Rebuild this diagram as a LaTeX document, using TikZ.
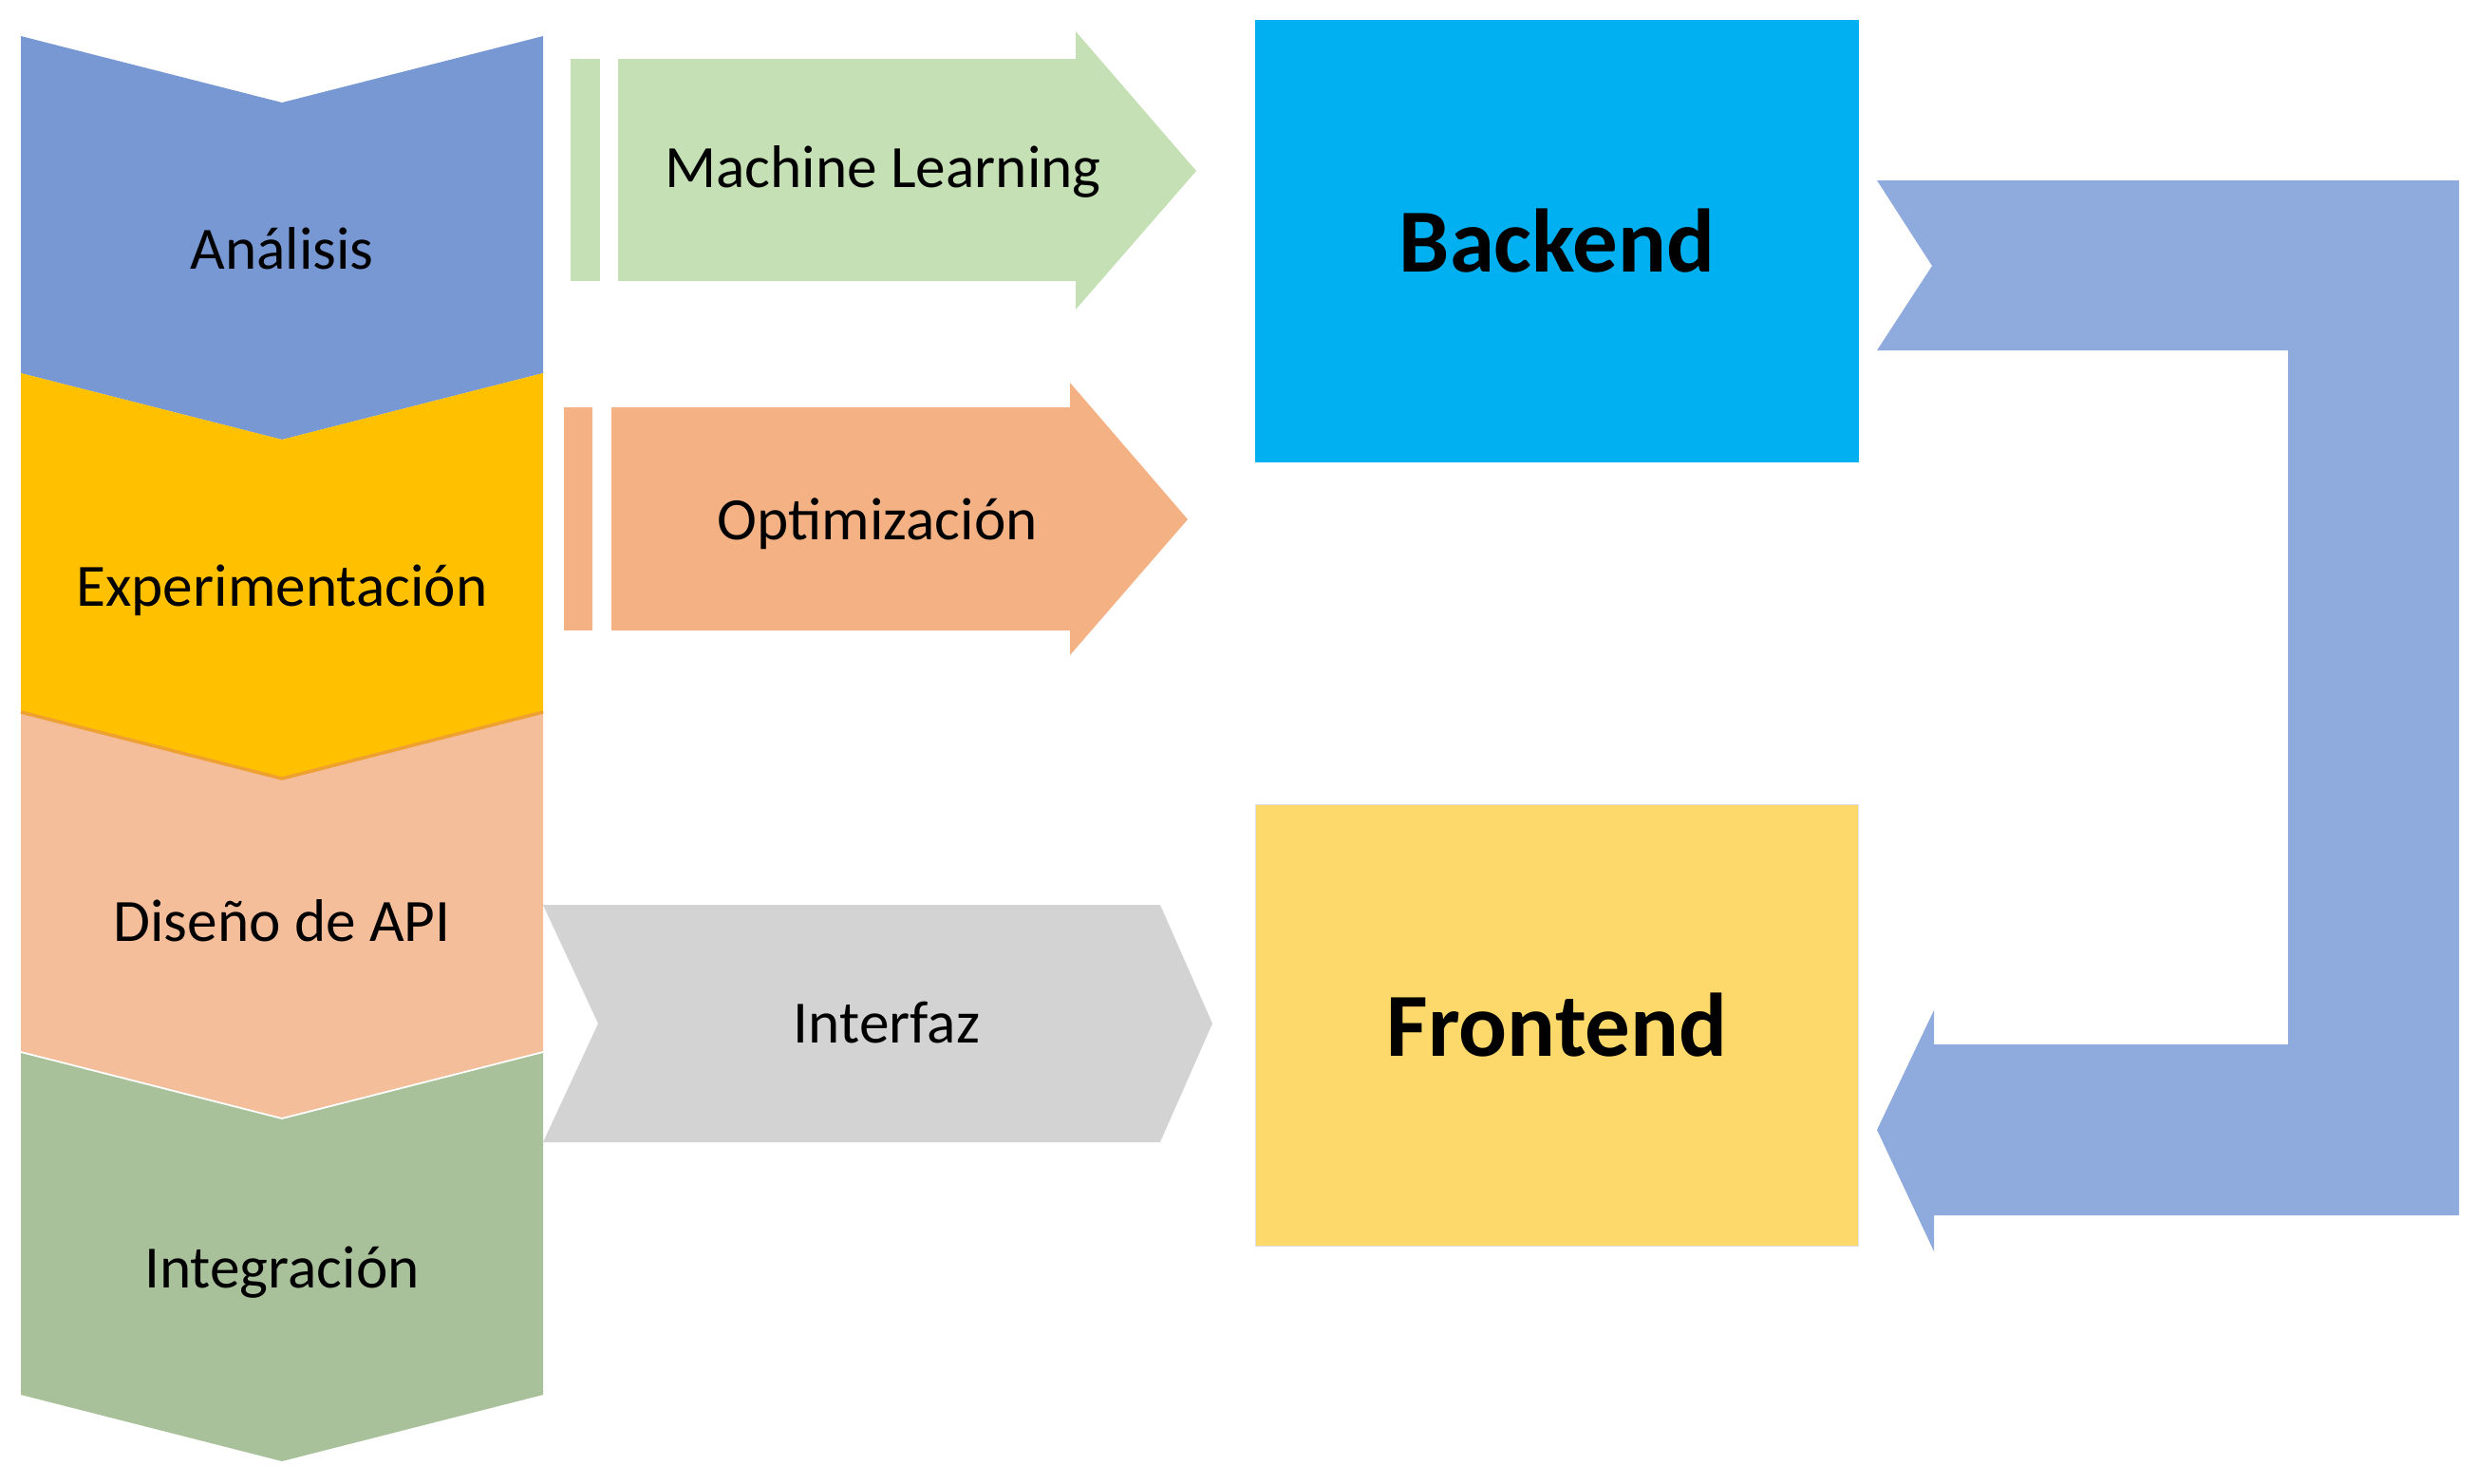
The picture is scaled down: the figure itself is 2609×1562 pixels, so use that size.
\documentclass[tikz,border=0pt]{standalone}
\usepackage{fontspec}
\setmainfont{Carlito}
\usetikzlibrary{positioning,calc}
\definecolor{phana}{RGB}{120,152,211}
\definecolor{phexp}{RGB}{255,192,0}
\definecolor{phdis}{RGB}{245,190,155}
\definecolor{phint}{RGB}{169,193,154}
\definecolor{expedge}{RGB}{238,160,48}
\definecolor{mlgreen}{RGB}{197,224,180}
\definecolor{optsalmon}{RGB}{244,177,131}
\definecolor{intgray}{RGB}{211,211,211}
\definecolor{backblue}{RGB}{0,176,240}
\definecolor{frontyellow}{RGB}{253,216,106}
\definecolor{loopblue}{RGB}{143,170,220}
\tikzset{
  lbl/.style={font=\fontsize{18}{22}\selectfont, text=black, inner sep=0pt, anchor=base},
  blkbox/.style={minimum width=6.35cm, minimum height=4.65cm, inner sep=0pt,
                 font=\fontsize{27}{32}\selectfont\bfseries, text=black},
}

\begin{document}
\begin{tikzpicture}[x=0.01cm, y=-0.01cm]
    \useasboundingbox (0,0) rectangle (2609,1562);
    % --- phase column
    \foreach \ya/\yb/\yl/\c/\t/\n in {38/393/283/phana/Análisis/ana, 393/750/638/phexp/Experimentación/exp,
        750/1108/991/phdis/Diseño de API/dis, 1108/1469/1356/phint/Integración/int}{
      \fill[\c] (22,\ya) -- (297,\ya+70) -- (572,\ya) -- (572,\yb) -- (297,\yb+70) -- (22,\yb) -- cycle;
      \node[lbl] (\n) at (297,\yl) {\t};
    }
    \draw[expedge, line width=1pt] (22,750) -- (297,820) -- (572,750);
    \draw[white, line width=0.5pt] (22,1108) -- (297,1178) -- (572,1108);
    % --- striped arrows
    \fill[mlgreen] (601,62) rectangle (632,296);
    \fill[mlgreen] (651,62) -- (1133,62) -- (1133,33) -- (1260,180) -- (1133,326) -- (1133,296) -- (651,296) -- cycle;
    \node[lbl] (ml) at (930,197) {Machine Learning};
    \fill[optsalmon] (594,429) rectangle (624,664);
    \fill[optsalmon] (644,429) -- (1127,429) -- (1127,403) -- (1251,547) -- (1127,690) -- (1127,664) -- (644,664) -- cycle;
    \node[lbl] (opt) at (924,568) {Optimización};
    % --- chevron
    \fill[intgray] (572,953) -- (1222,953) -- (1277,1078) -- (1222,1203) -- (572,1203) -- (630,1078) -- cycle;
    \node[lbl] (itf) at (934,1098) {Interfaz};
    % --- blocks
    \node[blkbox, fill=backblue] (back) at (1640,254) {Backend};
    \node[blkbox, fill=frontyellow, draw=gray!25, thin] (front) at (1640,1080) {Frontend};
    % --- loop arrow
    \fill[loopblue] (1977,190) -- (2590,190) -- (2590,1280) -- (2037,1280) -- (2037,1318) -- (1977,1190)
      -- (2037,1064) -- (2037,1100) -- (2410,1100) -- (2410,369) -- (1977,369) -- (2035,280) -- cycle;
\end{tikzpicture}
\end{document}
